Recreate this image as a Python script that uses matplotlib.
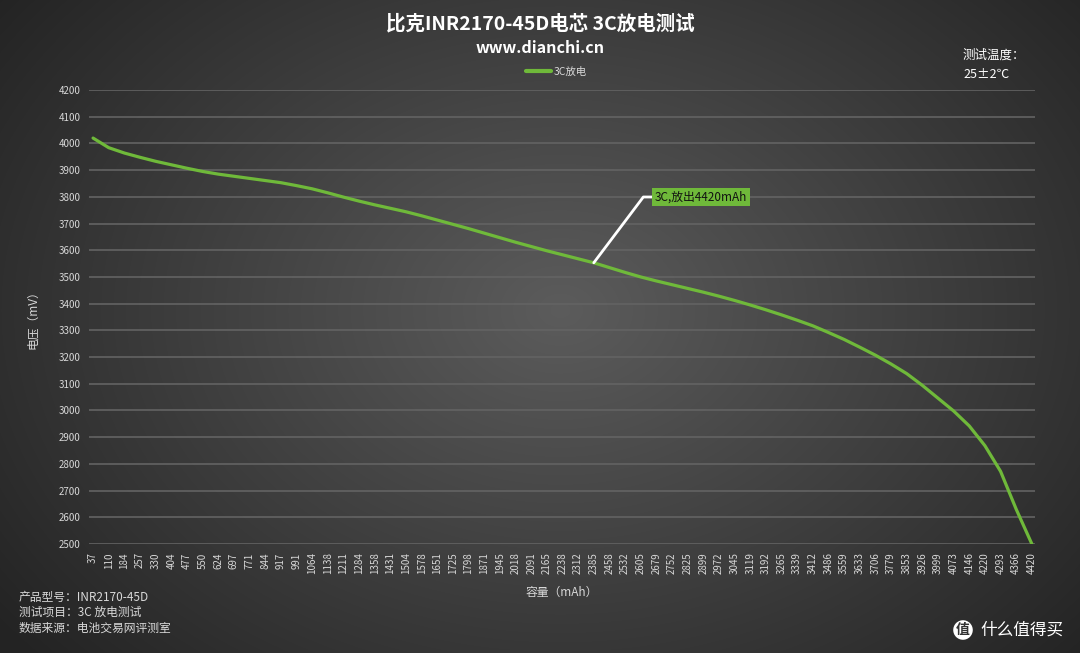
import numpy as np
import matplotlib
matplotlib.use('Agg')
import matplotlib.pyplot as plt

plt.rcParams['font.family'] = ['Noto Sans CJK SC', 'DejaVu Sans']

# capacity labels (mAh) shown on the category axis
capacity = [37, 110, 184, 257, 330, 404, 477, 550, 624, 697, 771, 844, 917, 991,
            1064, 1138, 1211, 1284, 1358, 1431, 1504, 1578, 1651, 1725, 1798, 1871,
            1945, 2018, 2091, 2165, 2238, 2312, 2385, 2458, 2532, 2605, 2679, 2752,
            2825, 2899, 2972, 3045, 3119, 3192, 3265, 3339, 3412, 3486, 3559, 3633,
            3706, 3779, 3853, 3926, 3999, 4073, 4146, 4220, 4293, 4366, 4420]

# 3C discharge voltage (mV) read at each capacity
voltage = [4020, 3984, 3964, 3948, 3933, 3920, 3907, 3895, 3885, 3877, 3869, 3861,
           3853, 3842, 3830, 3815, 3799, 3784, 3770, 3757, 3744, 3729, 3713, 3697,
           3681, 3664, 3647, 3630, 3614, 3598, 3583, 3568, 3553, 3535, 3517, 3500,
           3485, 3471, 3457, 3443, 3428, 3412, 3395, 3377, 3358, 3338, 3317, 3292,
           3266, 3237, 3207, 3174, 3138, 3094, 3046, 2998, 2942, 2868, 2772, 2630, 2500]

y_ticks = list(range(2500, 4201, 100))
series_name = '3C放电'
note = '3C,放出4420mAh'
note_idx = 32
green = '#6fb93a'
txt = '#d8d8d8'

fig = plt.figure(figsize=(10.8, 6.53), dpi=100)

# radial background
bg = fig.add_axes([0, 0, 1, 1], zorder=-5)
yy, xx = np.mgrid[0:653, 0:1080]
r = np.sqrt(((xx - 560) / 700.0) ** 2 + ((yy - 310) / 520.0) ** 2)
shade = np.clip(0.36 - 0.22 * r, 0.14, 0.4)
bg.imshow(np.dstack([shade, shade, shade]), aspect='auto', extent=[0, 1, 0, 1])
bg.axis('off')

W, H = 1080, 653
ax = fig.add_axes([89 / W, 1 - 544 / H, (1035 - 89) / W, (544 - 90) / H])
ax.set_facecolor('none')
x = np.arange(len(capacity))
ax.plot(x, voltage, color=green, lw=2.3, label=series_name, solid_capstyle='round',
        solid_joinstyle='round', zorder=3)

ax.set_ylim(2500, 4200)
ax.set_xlim(-0.26, len(capacity) - 1 + 0.2)
ax.set_yticks(y_ticks)
ax.set_yticklabels([str(v) for v in y_ticks], color=txt, fontsize=7)
ax.set_xticks(x)
ax.set_xticklabels([str(c) for c in capacity], rotation=90, color=txt, fontsize=7)
ax.tick_params(length=0, pad=6)
ax.grid(axis='y', color='#636363', lw=1.2)
ax.set_axisbelow(True)
for s in ax.spines.values():
    s.set_visible(False)

ax.set_ylabel('电压（mV）', color=txt, fontsize=8.5, labelpad=14)
ax.set_xlabel('容量（mAh）', color=txt, fontsize=8.5, labelpad=8)

fig.text(0.5, 1 - 24 / H, '比克INR2170-45D电芯 3C放电测试', ha='center', va='center',
         color='white', fontsize=14, fontweight='bold')
fig.text(0.5, 1 - 48 / H, 'www.dianchi.cn', ha='center', va='center',
         color='white', fontsize=11.5, fontweight='bold')
leg = fig.legend(loc='center', bbox_to_anchor=(0.515, 1 - 72 / H), frameon=False,
                 fontsize=7.5, handlelength=2.4, handletextpad=0.2)
for t in leg.get_texts():
    t.set_color(txt)
for l in leg.get_lines():
    l.set_linewidth(3)

fig.text(963 / W, 1 - 55 / H, '测试温度：', ha='left', va='center', color='white', fontsize=9)
fig.text(963 / W, 1 - 74 / H, '25±2℃', ha='left', va='center', color='white', fontsize=9)

for i, line in enumerate(['产品型号：INR2170-45D', '测试项目：3C 放电测试', '数据来源：电池交易网评测室']):
    fig.text(19 / W, 1 - (597 + i * 15.5) / H, line, ha='left', va='center', color=txt, fontsize=8.5)

ax.annotate(note, xy=(note_idx, voltage[note_idx]), xytext=(655, H - 197),
            textcoords='figure pixels', ha='left', va='center', fontsize=8.5, color='#111111',
            bbox=dict(boxstyle='square,pad=0.25', fc=green, ec='none'),
            arrowprops=dict(arrowstyle='-', color='white', lw=2,
                            connectionstyle='angle,angleA=0,angleB=53,rad=0',
                            shrinkA=0, shrinkB=0))

fig.text(963 / W, 1 - 630 / H, '值', ha='center', va='center', color='#333333', fontsize=10,
         fontweight='bold', bbox=dict(boxstyle='circle,pad=0.2', fc='white', ec='none'))
fig.text(980 / W, 1 - 630 / H, '什么值得买', ha='left', va='center', color='white', fontsize=12)

fig.savefig('out.png', dpi=100)
